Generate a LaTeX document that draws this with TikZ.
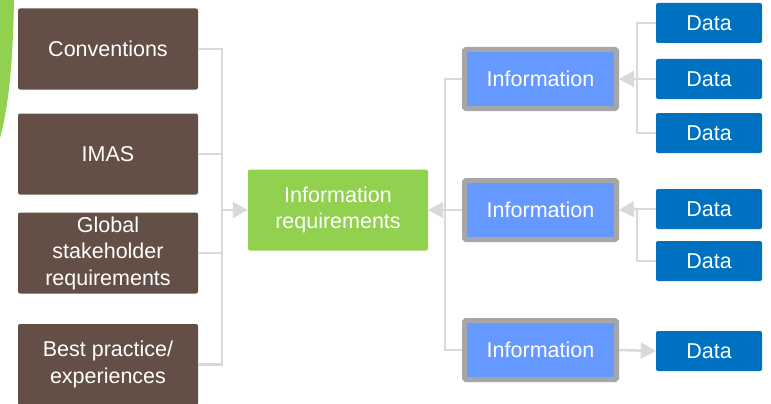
\documentclass[tikz,border=0pt]{standalone}
\usepackage{fontspec}
\setmainfont{Liberation Sans}
\usetikzlibrary{arrows.meta}
\definecolor{srcbrown}{HTML}{634F46}
\definecolor{reqgreen}{HTML}{92D050}
\definecolor{infoblue}{HTML}{6699FF}
\definecolor{infoedge}{HTML}{A6A6A6}
\definecolor{datablue}{HTML}{0070C0}
\definecolor{linkgray}{HTML}{D9D9D9}
\begin{document}
\begin{tikzpicture}[x=1pt, y=-1pt,
    font=\fontsize{21.5}{26.5}\selectfont,
    srcbox/.style={fill=srcbrown, text=white, rounded corners=2pt, minimum width=180pt, minimum height=81pt, align=center, inner sep=0pt},
    reqbox/.style={fill=reqgreen, text=white, rounded corners=2pt, minimum width=180pt, minimum height=81pt, align=center, inner sep=0pt},
    infobox/.style={fill=infoblue, draw=infoedge, line width=5pt, rounded corners=1.5pt, text=white, minimum width=152pt, minimum height=59pt, outer sep=2.5pt, inner sep=0pt},
    databox/.style={fill=datablue, text=white, rounded corners=2pt, minimum width=106pt, minimum height=40pt, inner sep=0pt},
    link/.style={draw=linkgray, line width=2.5pt},
    linkarrow/.style={link, -{Triangle[length=15pt, width=16pt]}}]
    \useasboundingbox (0,0) rectangle (771,404);
    % Green corner arc
    \fill[reqgreen] (0,0) -- (14,0) .. controls (13,60) and (9,105) .. (0,138) -- cycle;
    % Sources
    \node[srcbox] (conv) at (108,49) {Conventions};
    \node[srcbox] (imas) at (108,154) {IMAS};
    \node[srcbox] (glob) at (108,253) {Global\\stakeholder\\requirements};
    \node[srcbox] (best) at (108,364.5) {Best practice/\\experiences};
    % Requirements
    \node[reqbox] (req) at (338,210) {Information\\requirements};
    % Information
    \node[infobox] (info1) at (540.5,79) {Information};
    \node[infobox] (info2) at (540.5,210) {Information};
    \node[infobox] (info3) at (540.5,350) {Information};
    % Data
    \node[databox] (data1) at (709,23) {Data};
    \node[databox] (data2) at (709,79) {Data};
    \node[databox] (data3) at (709,133) {Data};
    \node[databox] (data4) at (709,209) {Data};
    \node[databox] (data5) at (709,261) {Data};
    \node[databox] (data6) at (709,351) {Data};
    % Sources -> requirements
    \coordinate (lbus) at (222,210);
    \foreach \s in {conv, imas, glob, best}
        \draw[link] (\s.east) -| (lbus);
    \draw[linkarrow] (lbus) -- (req.west);
    % Information -> requirements
    \coordinate (rbus) at (445,210);
    \foreach \s in {info1, info2, info3}
        \draw[link] (\s.west) -| (rbus);
    \draw[linkarrow] (rbus) -- (req.east);
    % Data -> information
    \coordinate (dbus1) at (637,79);
    \foreach \s in {data1, data2, data3}
        \draw[link] (\s.west) -| (dbus1);
    \draw[linkarrow] (dbus1) -- (info1.east);
    \coordinate (dbus2) at (637,209);
    \foreach \s in {data4, data5}
        \draw[link] (\s.west) -| (dbus2);
    \draw[linkarrow] (dbus2) -- (info2.east);
    % Information -> data
    \draw[linkarrow] (info3.east) -- (data6.west);
\end{tikzpicture}
\end{document}
